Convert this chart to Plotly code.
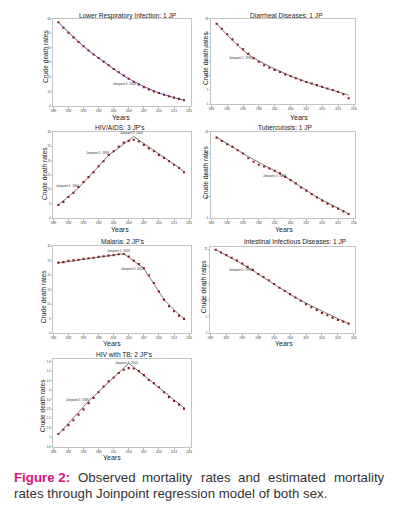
import plotly.graph_objects as go

W, H = 394, 511

years = list(range(1990, 2016))

# Observed crude death rates
lri = [57.7, 53.9, 50.5, 47.3, 44.1, 41.2, 38.3, 35.5, 33.1, 30.6, 28.1, 25.6, 23.3,
       21.1, 18.8, 16.8, 14.9, 13.1, 11.5, 10.2, 9.1, 7.9, 6.8, 5.9, 5.0, 4.1]
diar = [28.3, 26.5, 24.6, 22.8, 21.0, 19.3, 17.7, 16.2, 14.9, 13.7, 12.8, 12.0, 11.3,
        10.5, 9.8, 9.1, 8.4, 7.8, 7.3, 6.7, 6.1, 5.5, 5.0, 4.4, 3.5, 2.1]
hiv = [4.6, 5.7, 7.4, 8.9, 10.9, 12.6, 14.3, 16.0, 18.1, 19.8, 22.0, 23.3, 24.9,
       26.3, 26.9, 27.3, 26.7, 25.5, 24.3, 23.3, 22.0, 21.0, 19.8, 18.6, 17.5, 16.0]
tb = [37.4, 35.8, 34.3, 33.1, 31.5, 30.0, 27.8, 26.2, 24.8, 24.0, 23.1, 22.0, 20.8,
      19.2, 17.7, 16.2, 14.3, 12.8, 11.2, 9.7, 8.2, 6.8, 5.5, 4.5, 3.2, 2.0]
malaria = [24.3, 24.5, 24.9, 25.1, 25.3, 25.6, 25.8, 26.0, 26.3, 26.5, 26.7, 26.9, 27.2,
           27.3, 26.4, 25.0, 23.8, 22.4, 19.9, 17.3, 14.4, 11.6, 9.3, 7.6, 6.1, 5.0]
intest = [24.9, 24.1, 23.3, 22.5, 21.7, 20.8, 19.8, 18.9, 17.7, 16.8, 15.8, 14.7, 13.6,
          12.6, 11.7, 10.7, 9.7, 8.7, 7.8, 7.0, 6.1, 5.4, 4.7, 4.0, 3.5, 2.9]
hivtb = [1.22, 1.49, 1.78, 2.09, 2.45, 2.78, 3.18, 3.50, 3.87, 4.23, 4.56, 4.81, 5.09,
         5.30, 5.40, 5.38, 5.21, 4.96, 4.65, 4.44, 4.19, 3.87, 3.56, 3.31, 3.08, 2.83]

# Joinpoint fitted lines (knot years / values)
lri_fit_x = [1990, 1995, 2000, 2004, 2010, 2015]
lri_fit_y = [57.7, 41.2, 28.1, 18.8, 9.1, 4.1]
diar_fit_x = [1990, 1996, 2005, 2015]
diar_fit_y = [28.3, 17.5, 9.2, 3.2]
hiv_fit_x = [1990, 1994, 2000, 2005, 2014, 2015]
hiv_fit_y = [4.6, 10.5, 21.9, 28.4, 17.6, 16.0]
tb_fit_x = [1990, 1996, 2003, 2009, 2015]
tb_fit_y = [37.6, 28.6, 19.3, 9.8, 2.1]
mal_fit_x = [1990, 2003, 2007, 2011, 2015]
mal_fit_y = [24.2, 27.4, 22.4, 11.6, 4.8]
int_fit_x = [1990, 1996, 2005, 2015]
int_fit_y = [25.0, 19.7, 10.7, 2.9]
hivtb_fit_x = [1990, 1996, 2004, 2015]
hivtb_fit_y = [1.20, 3.30, 5.71, 2.88]

x_ticks = list(range(1989, 2017, 3))

panels = [
    dict(title="Lower Respiratory Infection: 1 JP", obs=lri, fx=lri_fit_x, fy=lri_fit_y,
         box=(51, 17, 190, 105), yr=[0, 60], yt=list(range(0, 61, 10)), shape="spline",
         lc="#5a5ab8", tx=127, ty=14, yx=43, yy=55, yrs=(120, 116),
         jp=[("Joinpoint 1: 2004", 2003.2, 15.4)]),
    dict(title="Diarrheal Diseases: 1 JP", obs=diar, fx=diar_fit_x, fy=diar_fit_y,
         box=(211, 17, 357, 103), yr=[0, 30], yt=list(range(0, 31, 5)), shape="spline",
         lc="#7a7a7a", tx=287, ty=14, yx=205, yy=57, yrs=(300, 116),
         jp=[("Joinpoint 1: 1996", 1994.6, 16.2)]),
    dict(title="HIV/AIDS: 3 JP's", obs=hiv, fx=hiv_fit_x, fy=hiv_fit_y,
         box=(51, 131, 190, 218), yr=[0, 30], yt=list(range(0, 31, 5)), shape="linear",
         lc="#7a7a7a", tx=119, ty=126, yx=42, yy=173, yrs=(118, 229),
         jp=[("Joinpoint 1: 1994", 1991.8, 11.2), ("Joinpoint 2: 1999", 1997.8, 22.6),
             ("Joinpoint 3: 2004", 2004.5, 29.6)]),
    dict(title="Tuberculosis: 1 JP", obs=tb, fx=tb_fit_x, fy=tb_fit_y,
         box=(211, 131, 357, 218), yr=[0, 40], yt=list(range(0, 41, 10)), shape="linear",
         lc="#7a7a7a", tx=286, ty=126, yx=205, yy=172, yrs=(285, 229),
         jp=[("Joinpoint 1: 2003", 2000.9, 19.4)]),
    dict(title="Malaria: 2 JP's", obs=malaria, fx=mal_fit_x, fy=mal_fit_y,
         box=(51, 246, 190, 334), yr=[0, 30], yt=list(range(0, 31, 5)), shape="linear",
         lc="#7a7a7a", tx=122, ty=241, yx=41, yy=297, yrs=(110, 344),
         jp=[("Joinpoint 1: 2003", 2002.0, 28.4), ("Joinpoint 2: 2007", 2004.8, 22.0)]),
    dict(title="Intestinal Infectious Diseases: 1 JP", obs=intest, fx=int_fit_x, fy=int_fit_y,
         box=(210, 247, 357, 334), yr=[0, 25.7], yt=list(range(0, 26, 5)), shape="spline",
         lc="#7a7a7a", tx=296, ty=241, yx=203, yy=287, yrs=(285, 344),
         jp=[("Joinpoint 1: 1996", 1994.6, 19.0)]),
    dict(title="HIV with TB: 2 JP's", obs=hivtb, fx=hivtb_fit_x, fy=hivtb_fit_y,
         box=(51, 360, 190, 449), yr=[0.36, 5.97], yt=[0.4, 1.0, 1.6, 2.2, 2.8, 3.4, 4.0, 4.6, 5.2, 5.8],
         shape="linear", lc="#7a7a7a", tx=123, ty=355, yx=40, yy=407, yrs=(110, 459),
         jp=[("Joinpoint 1: 1996", 1993.8, 3.35), ("Joinpoint 2: 2004", 2003.5, 5.71)]),
]

FONT = "Liberation Sans, Arial, sans-serif"
fig = go.Figure()
layout = dict(width=W, height=H, margin=dict(l=0, r=0, t=0, b=0),
              paper_bgcolor="white", plot_bgcolor="white", showlegend=False,
              hovermode=False, font=dict(family=FONT, color="#222"))
annotations = []

def px(x):
    return x / W

def py(y):
    return 1 - y / H

for i, p in enumerate(panels, start=1):
    sfx = "" if i == 1 else str(i)
    xa, ya = "x" + sfx, "y" + sfx
    x0, y0, x1, y1 = p["box"]
    fig.add_trace(go.Scatter(x=p["fx"], y=p["fy"], mode="lines", xaxis=xa, yaxis=ya,
                             line=dict(color=p["lc"], width=1, shape=p["shape"], smoothing=0.8),
                             hoverinfo="skip"))
    fig.add_trace(go.Scatter(x=years, y=p["obs"], mode="markers", xaxis=xa, yaxis=ya,
                             marker=dict(color="#8a1a1a", size=2.1, symbol="square",
                                         line=dict(width=0))))
    axcommon = dict(showline=True, mirror=True, linecolor="#c4c4c4", linewidth=1,
                    ticks="outside", ticklen=1.5, tickcolor="#888", tickwidth=0.6,
                    showgrid=False, zeroline=False, tickfont=dict(size=2.6, color="#333"))
    layout["xaxis" + sfx] = dict(domain=[px(x0), px(x1)], range=[1989, 2016.3],
                                 tickvals=x_ticks, anchor=ya, **axcommon)
    layout["yaxis" + sfx] = dict(domain=[py(y1), py(y0)], range=p["yr"], tickvals=p["yt"],
                                 anchor=xa, **axcommon)
    annotations.append(dict(text=p["title"], x=px(p["tx"]), y=py(p["ty"]), xref="paper",
                            yref="paper", showarrow=False, font=dict(size=6.6, color="#222"),
                            xanchor="center", yanchor="middle"))
    annotations.append(dict(text="Crude death rates", x=px(p["yx"]), y=py(p["yy"]), xref="paper",
                            yref="paper", showarrow=False, textangle=-90,
                            font=dict(size=6.6, color="#222"), xanchor="center", yanchor="middle"))
    annotations.append(dict(text="Years", x=px(p["yrs"][0]), y=py(p["yrs"][1]), xref="paper",
                            yref="paper", showarrow=False, font=dict(size=7, color="#222"),
                            xanchor="center", yanchor="middle"))
    for (t, jx, jy) in p["jp"]:
        annotations.append(dict(text=t, x=jx, y=jy, xref=xa, yref=ya, showarrow=False,
                                font=dict(size=3, color="#333"), xanchor="center",
                                yanchor="middle"))

# Caption (justified first line placed word by word)
cap1 = [("<b>Figure 2:</b>", 9, "#e0127c"), ("Observed", 74, "#333333"),
        ("mortality", 139, "#333333"), ("rates", 199, "#333333"), ("and", 236, "#333333"),
        ("estimated", 266, "#333333"), ("mortality", 333, "#333333")]
for t, x, c in cap1:
    annotations.append(dict(text=t, x=px(x), y=py(479), xref="paper", yref="paper",
                            showarrow=False, xanchor="left", yanchor="middle",
                            font=dict(size=13.3, color=c, family=FONT)))
annotations.append(dict(text="rates through Joinpoint regression model of both sex.",
                        x=px(9), y=py(495), xref="paper", yref="paper", showarrow=False,
                        xanchor="left", yanchor="middle",
                        font=dict(size=13.3, color="#333333", family=FONT)))

layout["annotations"] = annotations
fig.update_layout(**layout)
fig.write_html("out.html", config={"displayModeBar": False, "staticPlot": True},
               post_script="document.body.style.margin='0';")
